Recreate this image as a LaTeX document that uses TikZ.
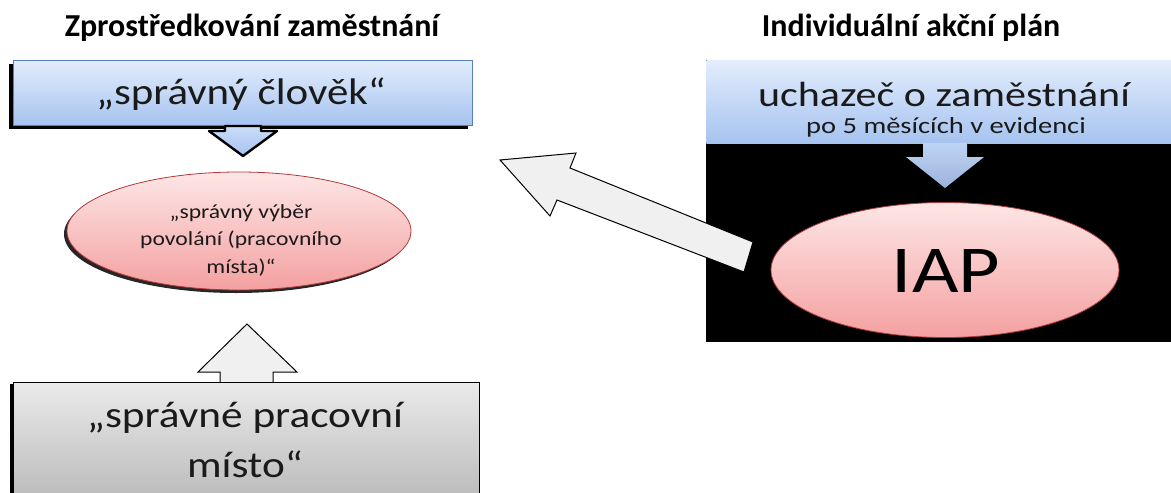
\documentclass[tikz,border=0pt]{standalone}
\usepackage{fontspec}
\usepackage{graphicx}
\setmainfont{Carlito}
\usetikzlibrary{shapes.geometric}
\definecolor{blueA}{HTML}{E3EDFC}
\definecolor{blueB}{HTML}{A6C3F0}
\definecolor{blueE}{HTML}{5A7FB5}
\definecolor{pinkA}{HTML}{FDE6E6}
\definecolor{pinkB}{HTML}{F4A0A0}
\definecolor{pinkE}{HTML}{B03A3A}
\definecolor{grayA}{HTML}{EAEAEA}
\definecolor{grayB}{HTML}{BDBDBD}
\definecolor{arrowfill}{HTML}{F0F0F0}
\definecolor{txt}{HTML}{1A1A1A}
\newcommand\hstretch[2]{\scalebox{#1}[1]{#2}}
\begin{document}
\begin{tikzpicture}[x=1pt,y=-1pt,
  title/.style={font=\bfseries\fontsize{32}{36}\selectfont, text=black},
  bluebox/.style={top color=blueA, bottom color=blueB, draw=blueE, line width=0.6pt, text=txt},
  pinkell/.style={ellipse, top color=pinkA, bottom color=pinkB, draw=pinkE, line width=0.8pt, text=txt, inner sep=0pt},
  graybox/.style={top color=grayA, bottom color=grayB, draw=black, line width=0.8pt, text=txt},
  blockarrow/.style={fill=arrowfill, draw=black, line width=1pt, line join=miter}
]
\useasboundingbox (0,0) rectangle (1171,493);

% titles
\node[title] (t1) at (252,28) {Zprostředkování zaměstnání};
\node[title] (t2) at (911,28) {Individuální akční plán};

% ---------- left column ----------
% top blue box with shadow
\fill[black] (9,64) rectangle (468,129);
\node[bluebox, minimum width=459pt, minimum height=65pt] (clovek) at (242.5,92.5) {};
\node[text=txt, font=\fontsize{37}{40}\selectfont] (clovektext) at (241,94) {\hstretch{1.16}{„správný člověk“}};
% down arrow
\filldraw[draw=black, line width=2.4pt, top color=blueA!60!blueB, bottom color=blueB, line join=round]
  (225,126) -- (261,126) -- (261,131) -- (277,131) -- (243,156) -- (209,131) -- (225,131) -- cycle;

% pink ellipse with shadow
\fill[black!85] (236,234) ellipse [x radius=172, y radius=59];
\node[pinkell, minimum width=344pt, minimum height=118pt] (vyber) at (239,231) {};
\node[text=txt, font=\fontsize{20}{27.5}\selectfont] (vybertext) at (241,240)
  {\hstretch{1.18}{\begin{tabular}{@{}c@{}}„správný výběr\\povolání (pracovního\\místa)“\end{tabular}}};

% up arrow
\path[blockarrow] (220,383) -- (220,372) -- (198,372) -- (247,324) -- (297,372) -- (273,372) -- (273,383);
% gray box
\fill[black] (10,384) rectangle (476,496);
\node[graybox, minimum width=466pt, minimum height=112pt, anchor=north west] (misto) at (13,382) {};
\node[text=txt, font=\fontsize{37}{50}\selectfont] (mistotext) at (245,442)
  {\hstretch{1.17}{\begin{tabular}{@{}c@{}}„správné pracovní\\místo“\end{tabular}}};

% ---------- right column ----------
\fill[black] (706,60) rectangle (1171,342);
\node[bluebox, draw=none, minimum width=465pt, minimum height=83pt, anchor=north west] (uchazec) at (706,60) {};
\node[font=\fontsize{35}{38}\selectfont, text=txt] (uz1) at (944,94) {\hstretch{1.2}{uchazeč o zaměstnání}};
\node[font=\fontsize{23}{25}\selectfont, text=txt] (uz2) at (946,127) {\hstretch{1.24}{po 5 měsících v evidenci}};
% blue down arrow
\fill[top color=blueA!40!blueB, bottom color=blueB!90!black!95]
  (923,143) -- (967,143) -- (967,157) -- (984,157) -- (945,188) -- (906,157) -- (923,157) -- cycle;
% IAP ellipse
\node[pinkell, minimum width=348pt, minimum height=135pt] (iap) at (945,270) {};
\node[font=\fontsize{67}{70}\selectfont, text=black] (iaptext) at (946,271) {\hstretch{1.2}{IAP}};

% big arrow from IAP towards left
\path[blockarrow] (500,160) -- (576,153) -- (570,168) -- (753,242) -- (744,272) -- (557,200) -- (550,216) -- cycle;
\end{tikzpicture}
\end{document}
